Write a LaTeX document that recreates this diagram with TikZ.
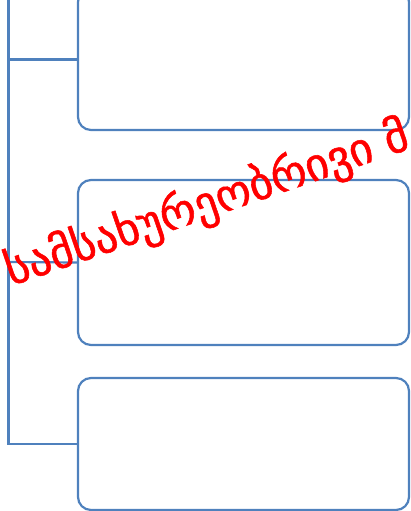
\documentclass[tikz,border=0pt]{standalone}
\usepackage{fontspec}
\newfontfamily\geofont[Script=Georgian,FakeBold=1.2]{DejaVu Sans}
\usetikzlibrary{positioning,calc}
\definecolor{boxblue}{RGB}{79,129,189}
\definecolor{stampred}{RGB}{255,0,0}

\begin{document}
\begin{tikzpicture}[x=1pt,y=-1pt,
    orgbox/.style={draw=boxblue,line width=2.2pt,rounded corners=13pt,minimum width=331pt,inner sep=0pt},
    branch/.style={draw=boxblue,line width=2.2pt}]
  \useasboundingbox (0,0) rectangle (410,511);
  \clip (0,0) rectangle (410,511);
  % boxes on the right
  \node[orgbox,minimum height=141pt] (box1) at (243.5,59.5) {};
  \node[orgbox,minimum height=165pt] (box2) at (243.5,262.5) {};
  \node[orgbox,minimum height=132pt] (box3) at (243.5,444) {};
  % trunk and branches
  \coordinate (top) at (8.5,-2);
  \coordinate (j1) at (8.5,59.5);
  \coordinate (j2) at (8.5,262);
  \coordinate (j3) at (8.5,444);
  \draw[branch] (top) -- (j3) -- (box3.west);
  \draw[branch] (j1) -- (box1.west);
  \draw[branch] (j2) -- (box2.west);
  % red stamp text
  \node[stampred,anchor=base west,rotate=19,inner sep=0pt,font=\geofont\fontsize{45}{49}\selectfont]
    (stamp) at (11,286) {სამსახურეობრივი მ};
\end{tikzpicture}
\end{document}
